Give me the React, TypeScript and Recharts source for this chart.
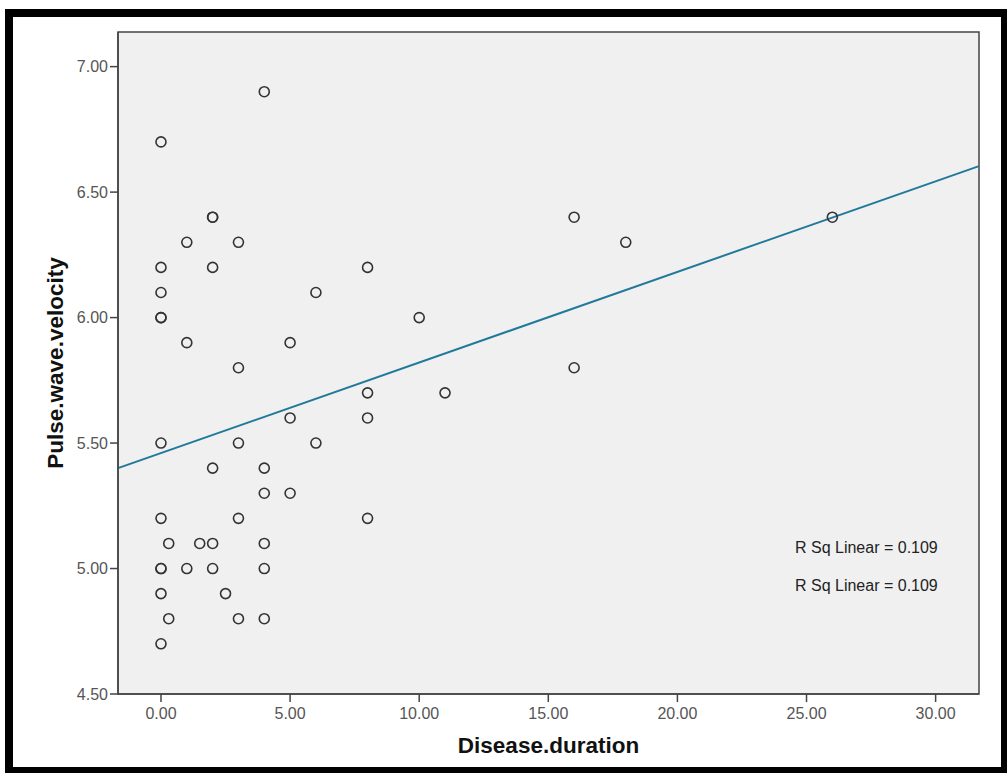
import React from 'react';
import { ScatterChart, Scatter, XAxis, YAxis, ReferenceArea, ReferenceLine } from 'recharts';

// Disease.duration vs Pulse.wave.velocity
const duration = [
  0, 0, 0, 0, 0, 0, 0, 0, 0, 0, 0,
  0.3, 0.3,
  1, 1, 1,
  1.5,
  2, 2, 2, 2, 2, 2,
  2.5,
  3, 3, 3, 3, 3,
  4, 4, 4, 4, 4, 4,
  5, 5, 5,
  6, 6,
  8, 8, 8, 8,
  10, 11, 16, 16, 18, 26,
];
const velocity = [
  6.7, 6.2, 6.1, 6.0, 6.0, 5.5, 5.2, 5.0, 5.0, 4.9, 4.7,
  5.1, 4.8,
  6.3, 5.9, 5.0,
  5.1,
  6.4, 6.4, 6.2, 5.4, 5.1, 5.0,
  4.9,
  6.3, 5.8, 5.5, 5.2, 4.8,
  6.9, 5.4, 5.3, 5.1, 5.0, 4.8,
  5.9, 5.6, 5.3,
  6.1, 5.5,
  6.2, 5.7, 5.6, 5.2,
  6.0, 5.7, 6.4, 5.8, 6.3, 6.4,
];

const xTicks = [0, 5, 10, 15, 20, 25, 30];
const yTicks = [4.5, 5, 5.5, 6, 6.5, 7];
const xDomain = [-1.665, 31.68];
const yDomain = [4.5, 7.138];

// linear fit
const intercept = 5.46;
const slope = 0.0361;
const rSqLabels = ['R Sq Linear = 0.109', 'R Sq Linear = 0.109'];

const points = duration.map((d, i) => ({ x: d, y: velocity[i] }));
const fitSegment = xDomain.map((x) => ({ x, y: intercept + slope * x }));

const font = '"Liberation Sans", Arial, sans-serif';
const frame = '#444';

const Ring = (props: any) => (
  <circle cx={props.cx} cy={props.cy} r={5} fill="none" stroke="#333" strokeWidth={1.6} />
);

export default function App() {
  return (
    <div style={{ position: 'absolute', left: 0, top: 0, width: 1007, height: 773, background: '#fff', overflow: 'hidden' }}>
      <div
        style={{
          position: 'absolute', left: 5, top: 9, width: 1007 - 5, height: 773 - 9, boxSizing: 'border-box',
          borderStyle: 'solid', borderColor: '#000', borderWidth: '8px 6px 6px 8px',
        }}
      />
      <div style={{ position: 'absolute', left: 0, top: 0 }}>
        <ScatterChart width={1007} height={773} margin={{ top: 32, right: 28, bottom: 0, left: 0 }}>
          <ReferenceArea
            x1={xDomain[0]} x2={xDomain[1]} y1={yDomain[0]} y2={yDomain[1]}
            fill="#f0f0f0" fillOpacity={1} stroke={frame} strokeWidth={1.5}
          />
          <XAxis
            type="number" dataKey="x" domain={xDomain} ticks={xTicks} allowDataOverflow
            tickFormatter={(v: number) => v.toFixed(2)} height={79}
            axisLine={{ stroke: frame, strokeWidth: 1.5 }} tickLine={{ stroke: frame, strokeWidth: 1.5 }} tickSize={8}
            tick={{ fill: '#555', fontSize: 16, fontFamily: font, dy: 4 }}
            label={{ value: 'Disease.duration', position: 'center', dy: 12, fill: '#111', fontSize: 22.5, fontWeight: 'bold', fontFamily: font }}
          />
          <YAxis
            type="number" dataKey="y" domain={yDomain} ticks={yTicks} allowDataOverflow
            tickFormatter={(v: number) => v.toFixed(2)} width={118}
            axisLine={{ stroke: frame, strokeWidth: 1.5 }} tickLine={{ stroke: frame, strokeWidth: 1.5 }} tickSize={8}
            tick={{ fill: '#555', fontSize: 16, fontFamily: font }}
            label={{ value: 'Pulse.wave.velocity', angle: -90, position: 'center', dx: -4, fill: '#111', fontSize: 22.5, fontWeight: 'bold', fontFamily: font }}
          />
          <ReferenceLine segment={fitSegment} stroke="#21799a" strokeWidth={2} />
          <Scatter data={points} shape={Ring} isAnimationActive={false} />
        </ScatterChart>
      </div>
      {rSqLabels.map((t, i) => (
        <div
          key={i}
          style={{ position: 'absolute', left: 795, top: 539 + i * 38, fontFamily: font, fontSize: 16, color: '#222', whiteSpace: 'nowrap' }}
        >
          {t}
        </div>
      ))}
    </div>
  );
}
